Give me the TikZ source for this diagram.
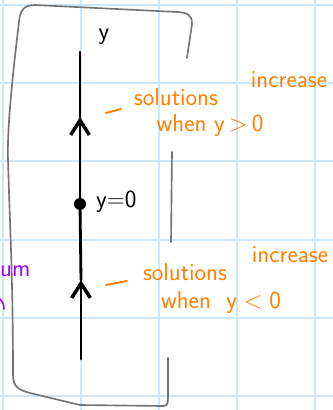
\documentclass[tikz,border=0pt]{standalone}
\usetikzlibrary{arrows.meta}
\definecolor{inkorange}{RGB}{255,128,0}
\definecolor{inkpurple}{RGB}{170,0,255}
\definecolor{sheetblue}{RGB}{205,232,250}
\definecolor{pengray}{RGB}{115,115,115}
\begin{document}
\begin{tikzpicture}[x=0.03cm, y=-0.03cm, every node/.style={font=\sffamily\fontsize{21}{24}\selectfont, inner sep=0pt}, sheet/.style={sheetblue, line width=1.2pt}, frame/.style={pengray, line width=1.4pt, line cap=round, line join=round}, axis/.style={line width=2.4pt, line cap=round}, tip/.style={-{Straight Barb[length=4.4mm, width=5.6mm, line width=3pt]}}, note/.style={text=inkorange}, notedash/.style={inkorange, line width=1.6pt, line cap=round}, dotnode/.style={circle, fill, minimum size=0.36cm}]
\useasboundingbox (0,0) rectangle (333,410);
\fill[white] (0,0) rectangle (333,410);
\foreach \gx in {3,81,159,237,315} \draw[sheet] (\gx,0) -- (\gx,410);
\foreach \gy in {5,83,161,240,318,396} \draw[sheet] (0,\gy) -- (333,\gy);
% bracket round the phase line
\draw[frame] (187,58) -- (192,24) .. controls (192,15) and (188,13) .. (178,12) -- (35,5) .. controls (24,5) and (20,10) .. (19,22) .. controls (12,80) and (7,130) .. (8,160) .. controls (10,230) and (13,280) .. (13,375) .. controls (13,388) and (20,390) .. (30,393) -- (80,405) -- (163,406) .. controls (167,406) and (168,404) .. (168,398) -- (168,358);
\draw[frame] (172,152) -- (171,242);
% phase line
\coordinate (top) at (80,52);
\coordinate (up1) at (80,117);
\coordinate (up2) at (81,280);
\coordinate (bot) at (81,359);
\node[dotnode] (eq) at (80,204) {};
\node (ylab) at (104,37) {y};
\node[anchor=west] (eqlab) at (96,202) {y=0};
\draw[axis, tip] (bot) -- (up2);
\draw[axis] (up2) -- (eq);
\draw[axis, tip] (eq) -- (up1);
\draw[axis] (up1) -- (top);
% notes
\coordinate (d1a) at (106,113);
\coordinate (d1b) at (121,109);
\coordinate (d2a) at (106,285);
\coordinate (d2b) at (127,281);
\draw[notedash] (d1a) -- (d1b);
\draw[notedash] (d2a) -- (d2b);
\node[note] (s1) at (176,97) {solutions};
\node[note] (i1) at (289,80) {increase};
\node[note] (w1) at (210,125) {when y\,>\,0};
\node[note] (s2) at (185,272) {solutions};
\node[note] (i2) at (290,255) {increase};
\node[note] (w2) at (221,302) {when \ y\;<\;0};
% note cut off at the left edge
\node[text=inkpurple, anchor=west] (cut) at (0,271) {um};
\draw[inkpurple, line width=1.3pt, line cap=round] (0,299) .. controls (3,302) and (4,305) .. (4,309);
\end{tikzpicture}
\end{document}
